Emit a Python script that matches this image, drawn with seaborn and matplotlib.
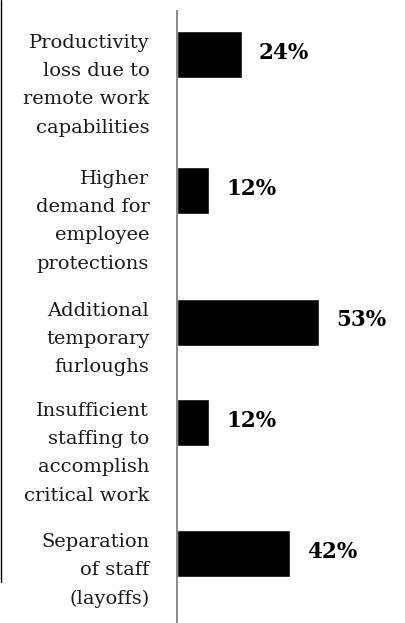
import matplotlib
matplotlib.use("Agg")
import matplotlib.pyplot as plt
from matplotlib.lines import Line2D
import numpy as np
import pandas as pd
import seaborn as sns

# Survey responses: expected impact on the workforce
categories = [
    "Productivity\nloss due to\nremote work\ncapabilities",
    "Higher\ndemand for\nemployee\nprotections",
    "Additional\ntemporary\nfurloughs",
    "Insufficient\nstaffing to\naccomplish\ncritical work",
    "Separation\nof staff\n(layoffs)",
]
values = [24, 12, 53, 12, 42]

# Row layout (vertical placement of each bar, in row units)
row_pos = [0.0, 1.090, 2.148, 2.950, 4.0]
bar_h = 0.377

df = pd.DataFrame({"category": categories, "value": values, "row": row_pos})

sns.set_theme(style="white")
plt.rcParams["font.family"] = ["DejaVu Serif"]

W, H = 406, 623
fig = plt.figure(figsize=(W / 100, H / 100), dpi=100)
ax_left = 177.3 / W
ax_top = 11 / H
ax = fig.add_axes([ax_left, 0, 1 - ax_left, 1 - ax_top])

min_gap = np.min(np.diff(np.unique(row_pos)))
sns.barplot(data=df, x="value", y="row", orient="y", native_scale=True,
            color="black", saturation=1, width=bar_h / min_gap, ax=ax,
            errorbar=None)

px_per_unit = 2.68
ax.set_xlim(0, (W - 177.3) / px_per_unit)
ax.set_ylim(4.557, -0.349)

ax.set_xticks([])
ax.set_yticks([])
ax.set_xlabel("")
ax.set_ylabel("")
for s in ["top", "right", "bottom"]:
    ax.spines[s].set_visible(False)
ax.spines["left"].set_color("#808080")
ax.spines["left"].set_linewidth(1.3)

for cat, val, pos in zip(categories, values, row_pos):
    ax.annotate(cat, xy=(0, pos - bar_h / 2), xytext=(-28, -3),
                textcoords="offset pixels", ha="right", va="top",
                fontsize=14, linespacing=1.73, color="#1a1a1a",
                annotation_clip=False)
    ax.annotate(f"{val}%", xy=(val, pos), xytext=(17, 2),
                textcoords="offset pixels", ha="left", va="center",
                fontsize=15.5, fontweight="bold", color="black",
                annotation_clip=False)

fig.add_artist(Line2D([1.5 / W, 1.5 / W], [1, 1 - 582 / H],
                      color="black", lw=1))

fig.savefig("out.png", dpi=100)
